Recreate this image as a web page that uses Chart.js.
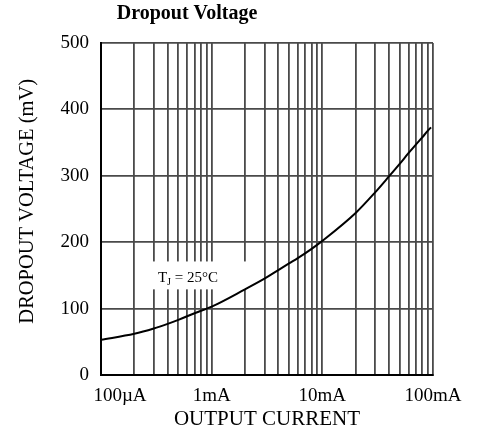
<!DOCTYPE html>
<html>
<head>
<meta charset="utf-8">
<script src="https://cdn.jsdelivr.net/npm/chart.js@4/dist/chart.umd.min.js"></script>
<style>
  html, body { margin: 0; padding: 0; background: #fff; }
</style>
</head>
<body>
<canvas id="chart" width="484" height="434"></canvas>
<script>
// output current (A) and dropout voltage (mV)
const currents = [1e-4, 2e-4, 3e-4, 4e-4, 5e-4, 7e-4, 1e-3, 2e-3, 3e-3, 4e-3, 5e-3, 6e-3, 8e-3,
                  1e-2, 2e-2, 3e-2, 4e-2, 5e-2, 6e-2, 7e-2, 8e-2, 9e-2, 9.6e-2]
const dropout = [53, 62, 70, 77, 83, 93, 103, 129, 145, 158, 168, 176, 190,
                 202, 244, 275, 299, 318, 334, 347, 358, 368, 373]

const decades = [1e-4, 1e-3, 1e-2, 1e-1]
const decadeLabels = ["100µA", "1mA", "10mA", "100mA"]
const yMin = 0
const yMax = 500
const yStep = 100

const title = "Dropout Voltage"
const xTitle = "OUTPUT CURRENT"
const yTitle = "DROPOUT VOLTAGE (mV)"
const note = { main: "T", sub: "J", rest: " = 25°C" }

const serif = "'Liberation Serif', 'Times New Roman', serif"
const gridColor = "#4a4a4a"

// 1..9 in every decade, plus the last decade line
const gridValues = []
decades.slice(0, -1).forEach(d => {
    for (let m = 1; m < 10; m++) gridValues.push(d * m)
})
gridValues.push(decades[decades.length - 1])

function labelFor(value) {
    const i = decades.findIndex(d => Math.abs(value / d - 1) < 1e-6)
    if (i < 0) return ""
    // the first label sits a bit to the right in the original
    return i === 0 ? "        " + decadeLabels[i] : decadeLabels[i]
}

const extras = {
    id: "extras",
    beforeDatasetsDraw(chart) {
        const { ctx, scales: { x, y } } = chart
        // white patch behind the temperature note
        const left = x.getPixelForValue(2.75e-4)
        const right = x.getPixelForValue(2.1e-3)
        const top = y.getPixelForValue(171)
        const bottom = y.getPixelForValue(129)
        ctx.save()
        ctx.fillStyle = "#fff"
        ctx.fillRect(left, top, right - left, bottom - top)
        ctx.restore()
    },
    afterDatasetsDraw(chart) {
        const { ctx, scales: { x, y } } = chart
        let px = x.getPixelForValue(3.27e-4)
        const py = y.getPixelForValue(140)
        ctx.save()
        ctx.fillStyle = "#000"
        ctx.textBaseline = "alphabetic"
        ctx.textAlign = "left"
        ctx.font = "15px " + serif
        ctx.fillText(note.main, px, py)
        px += ctx.measureText(note.main).width
        ctx.font = "10px " + serif
        ctx.fillText(note.sub, px, py + 3)
        px += ctx.measureText(note.sub).width
        ctx.font = "15px " + serif
        ctx.fillText(note.rest, px, py)

        ctx.font = "bold 20px " + serif
        ctx.textAlign = "center"
        ctx.fillText(title, chart.chartArea.left + 86, 19)
        ctx.restore()
    }
}

new Chart(document.getElementById("chart"), {
    type: "line",
    data: {
        datasets: [{
            data: currents.map((c, i) => ({ x: c, y: dropout[i] })),
            borderColor: "#000",
            borderWidth: 2,
            pointRadius: 0,
            fill: false,
            cubicInterpolationMode: "monotone"
        }]
    },
    options: {
        responsive: false,
        animation: false,
        layout: { padding: { top: 43, right: 51, bottom: 0, left: 0 } },
        plugins: { legend: { display: false }, tooltip: { enabled: false } },
        scales: {
            x: {
                type: "logarithmic",
                min: decades[0],
                max: decades[decades.length - 1],
                afterBuildTicks: scale => {
                    scale.ticks = gridValues.map(v => ({ value: v }))
                },
                afterFit: scale => { scale.height = 59 },
                ticks: {
                    autoSkip: false,
                    maxRotation: 0,
                    padding: 10,
                    color: "#000",
                    font: { family: serif, size: 19 },
                    callback: value => labelFor(value)
                },
                grid: { color: gridColor, lineWidth: 1.8, drawTicks: false },
                border: { color: "#000", width: 2 },
                title: {
                    display: true,
                    text: xTitle,
                    color: "#000",
                    font: { family: serif, size: 21 },
                    padding: { top: 0, bottom: 2 }
                }
            },
            y: {
                min: yMin,
                max: yMax,
                afterFit: scale => { scale.width = 101 },
                ticks: {
                    stepSize: yStep,
                    padding: 12,
                    color: "#000",
                    font: { family: serif, size: 19 }
                },
                grid: { color: gridColor, lineWidth: 1.8, drawTicks: false },
                border: { color: "#000", width: 2 },
                title: {
                    display: true,
                    // leading spaces lift the rotated text a little, as in the original
                    text: "   " + yTitle,
                    color: "#000",
                    font: { family: serif, size: 20.5 },
                    padding: { top: 15, bottom: 0 }
                }
            }
        }
    },
    plugins: [extras]
})
</script>
</body>
</html>
